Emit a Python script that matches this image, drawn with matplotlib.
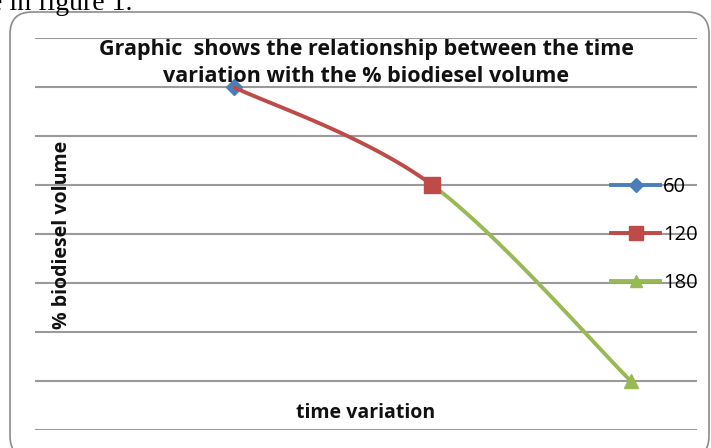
import numpy as np
import matplotlib.pyplot as plt
from matplotlib.lines import Line2D
from matplotlib.patches import FancyBboxPatch
from matplotlib.transforms import IdentityTransform

# data
time = [60, 120, 180]
volume = [7, 5, 1]
labels = ['60', '120', '180']
colors = ['#4A7EBB', '#BE4B48', '#98B954']
markers = ['D', 's', '^']
msizes = [8, 11, 10]


def smooth(x, y, i):
    # excel style bezier smoothing between point i and i+1
    p = np.column_stack([x, y]).astype(float)
    prev = p[max(i - 1, 0)]
    nxt = p[min(i + 2, len(p) - 1)]
    c1 = p[i] + (p[i + 1] - prev) / 6
    c2 = p[i + 1] - (nxt - p[i]) / 6
    t = np.linspace(0, 1, 60)[:, None]
    b = (1 - t) ** 3 * p[i] + 3 * (1 - t) ** 2 * t * c1 + 3 * (1 - t) * t ** 2 * c2 + t ** 3 * p[i + 1]
    return b[:, 0], b[:, 1]


fig = plt.figure(figsize=(7.11, 4.48), dpi=100)
ax = fig.add_axes([35 / 711, 1 - 430 / 448, 662 / 711, 392 / 448])

ax.set_xlim(0, 200)
ax.set_ylim(0, 8)
ax.set_yticks(range(0, 9))
ax.set_xticks([])
ax.tick_params(left=False, labelleft=False)
ax.grid(axis='y', color='#9a9a9a', lw=1.5)
ax.set_axisbelow(True)
for s in ax.spines.values():
    s.set_visible(False)

# blue point, then red and green smooth lines
ax.plot(time[0], volume[0], marker=markers[0], ms=msizes[0], color=colors[0], ls='none', zorder=3)
for i in range(len(time) - 1):
    xs, ys = smooth(time, volume, i)
    ax.plot(xs, ys, color=colors[i + 1], lw=2.8, solid_capstyle='butt', zorder=3 + i)
ax.plot(time[2], volume[2], marker=markers[2], ms=msizes[2], color=colors[2], ls='none', zorder=6)
ax.plot(time[1], volume[1], marker=markers[1], ms=msizes[1], color=colors[1], ls='none', zorder=6)

tfont = 'Open Sans'
fig.text(366 / 711, 1 - 63 / 448,
         'Graphic  shows the relationship between the time\nvariation with the % biodiesel volume',
         ha='center', va='center', fontfamily=tfont, fontweight='bold', fontsize=15.5,
         linespacing=1.38, color='#111111')
fig.text(62 / 711, 1 - 235 / 448, '% biodiesel volume', rotation=90, ha='center', va='center',
         fontfamily=tfont, fontweight='bold', fontsize=14, color='#111111')
fig.text(366 / 711, 1 - 413 / 448, 'time variation', ha='center', va='center',
         fontfamily=tfont, fontweight='bold', fontsize=14, color='#111111')

handles = [Line2D([], [], color=c, marker=m, ms=s * 0.9, lw=2.8) for c, m, s in zip(colors, markers, msizes)]
fig.legend(handles, labels, loc='center left', bbox_to_anchor=(611 / 711, 1 - 235 / 448), frameon=False,
           prop={'family': 'Open Sans', 'size': 14.5}, handlelength=2.45, handletextpad=0.12,
           labelspacing=1.4, borderpad=0, borderaxespad=0)

# rounded chart border and clipped page text
fig.add_artist(FancyBboxPatch((10, -10), 699, 446, boxstyle='round,pad=0,rounding_size=22',
                              transform=IdentityTransform(), fc='none', ec='#8c8c8c', lw=1.2))
fig.text(133 / 711, 1 - 10 / 448, 'e in figure 1.', ha='right', va='baseline',
         fontfamily='Liberation Serif', fontsize=20)

plt.savefig('out.png', dpi=100)
